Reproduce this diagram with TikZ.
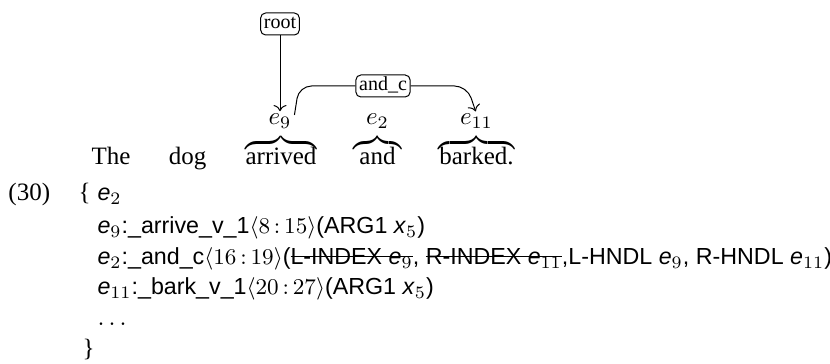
\documentclass[tikz,border=0pt]{standalone}
\usepackage[no-math]{fontspec}
\setmainfont{Liberation Serif}
\setsansfont{Liberation Sans}
\usetikzlibrary{arrows.meta}

% strike a horizontal rule through its argument
\newcommand{\struck}[1]{\sbox0{#1}\rlap{\raisebox{0.33em}{\rule{\wd0}{0.4pt}}}\usebox0}
% one element variable in the MRS listing
\newcommand{\ev}[1]{\textit{e}$_{#1}$}
% a horizontal brace of the given width, opening downwards
\newcommand{\spanbrace}[1]{\hbox to #1{\downbracefill}}
% character span
\newcommand{\cspan}[2]{$\langle #1\,{:}\,#2\rangle$}

\begin{document}
\begin{tikzpicture}[x=0.4pt, y=-0.4pt,
  lbl/.style={draw, rounded corners=2pt, font=\footnotesize, line width=0.4pt,
              inner xsep=1.3pt, inner ysep=0.8pt, text height=5.6pt, text depth=1.6pt},
  word/.style={anchor=base, inner sep=0pt},
  brc/.style={anchor=south, inner sep=0pt},
  evar/.style={anchor=base, inner sep=0pt},
  mrs/.style={anchor=base west, inner sep=0pt, font=\sffamily\fontsize{9.3}{11}\selectfont},
  plain/.style={anchor=base west, inner sep=0pt},
  arr/.style={->, line width=0.4pt, shorten >=1pt},
  link/.style={line width=0.4pt, rounded corners=5pt}]
\useasboundingbox (0,0) rectangle (830,364);

% sentence
\node[word] (w1) at (111,165) {The};
\node[word] (w2) at (187.5,165) {dog};
\node[word] (w3) at (281,165) {arrived};
\node[word] (w4) at (377.5,165) {and};
\node[word] (w5) at (476.5,165) {barked.};

% braces over the spans of the predicates
\node[brc] (b3) at (281,145) {\spanbrace{28.8pt}};
\node[brc] (b4) at (377.5,145) {\spanbrace{19.6pt}};
\node[brc] (b5) at (476.5,145) {\spanbrace{30.6pt}};

\node[evar] (e9)  at (280,125) {$e_9$};
\node[evar] (e2)  at (377.5,125) {$e_2$};
\node[evar] (e11) at (476.5,125) {$e_{11}$};

% edges
\node[lbl] (root) at (280,24) {root};
\node[lbl] (andc) at (383,86) {and\_c};
\coordinate (c1) at (299,86);
\coordinate (c2) at (467,86);

\draw[arr] (root.south) -- (e9.north);
\draw[link] ([shift={(1pt,-0.5pt)}]e9.north east) -- (c1) -- (andc.west);
\draw[link, arr] (andc.east) -- (c2) -- (e11.north);

% MRS listing
\node[plain] (num) at (8,201) {(30)};
\node[plain] (lb)  at (78,201) {\{};
\node[mrs] (m0) at (97,201) {\ev{2}};
\node[mrs] (m1) at (97,234) {\ev{9}:\_arrive\_v\_1\cspan{8}{15}(ARG1 \textit{x}$_5$)};
\node[mrs] (m2) at (97,265) {\ev{2}:\_and\_c\cspan{16}{19}(\struck{L-INDEX \ev{9}}, \struck{R-INDEX \ev{11}},L-HNDL \ev{9}, R-HNDL \ev{11})};
\node[mrs] (m3) at (97,295) {\ev{11}:\_bark\_v\_1\cspan{20}{27}(ARG1 \textit{x}$_5$)};
\node[plain] (m4) at (97,326) {$\ldots$};
\node[plain] (rb)  at (82,357) {\}};
\end{tikzpicture}
\end{document}
